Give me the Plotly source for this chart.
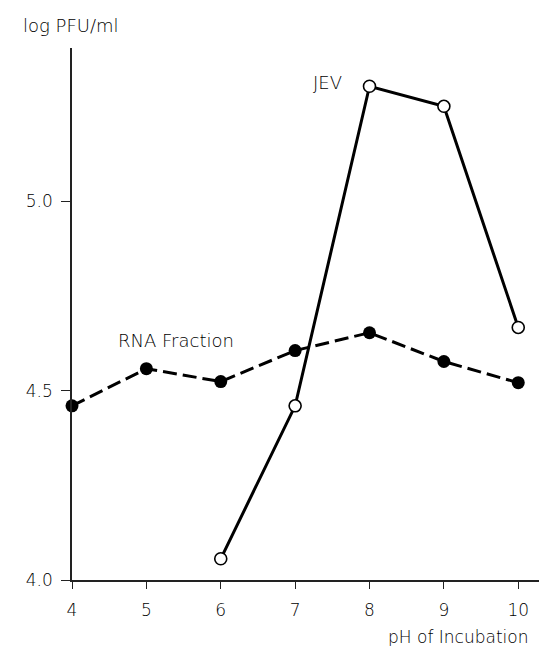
import plotly.graph_objects as go

ph = [4, 5, 6, 7, 8, 9, 10]
rna_fraction = [4.46, 4.558, 4.524, 4.606, 4.653, 4.577, 4.521]
jev_ph = [6, 7, 8, 9, 10]
jev = [4.056, 4.46, 5.304, 5.251, 4.667]

x_ticks = [4, 5, 6, 7, 8, 9, 10]
y_ticks = [4.0, 4.5, 5.0]
y_tick_labels = ["4.0", "4.5", "5.0"]

FONT = "DejaVu Sans"
INK = "#000000"
W = 200

fig = go.Figure()
fig.add_trace(go.Scatter(
    x=ph, y=rna_fraction, mode="lines+markers",
    line=dict(color="black", width=3, dash="14px,6px"),
    marker=dict(size=13, color="black"),
    cliponaxis=False, showlegend=False))
fig.add_trace(go.Scatter(
    x=jev_ph, y=jev, mode="lines+markers",
    line=dict(color="black", width=3),
    marker=dict(size=12, color="white", line=dict(color="black", width=1.6)),
    cliponaxis=False, showlegend=False))

fig.update_layout(
    width=547, height=646,
    margin=dict(l=64, r=7, t=40, b=74),
    paper_bgcolor="white", plot_bgcolor="white",
    font=dict(family=FONT, size=16, color=INK, weight=W),
    xaxis=dict(range=[4.0, 10.4], tickvals=x_ticks, ticktext=[str(v) for v in x_ticks],
               showgrid=False, zeroline=False, showline=True, linecolor="#222222",
               linewidth=1.5, ticks="outside", ticklen=7, tickwidth=1.2,
               tickcolor="#222222", ticklabelstandoff=7,
               tickfont=dict(family=FONT, size=17, color=INK, weight=W)),
    yaxis=dict(range=[4.0, 5.405], tickvals=y_ticks, ticktext=y_tick_labels,
               showgrid=False, zeroline=False, showline=True, linecolor="#222222",
               linewidth=1.5, ticks="outside", ticklen=9, tickwidth=1.2,
               tickcolor="#222222", ticklabelstandoff=5,
               tickfont=dict(family=FONT, size=17, color=INK, weight=W)),
    annotations=[
        dict(text="log PFU/ml", xref="paper", yref="paper", x=-0.107, y=1.043,
             xanchor="left", yanchor="middle", showarrow=False,
             font=dict(family=FONT, size=18, color=INK, weight=W)),
        dict(text="pH of Incubation", xref="paper", yref="paper", x=0.66, y=-0.108,
             xanchor="left", yanchor="middle", showarrow=False,
             font=dict(family=FONT, size=17, color=INK, weight=W)),
        dict(text="JEV", x=7.44, y=5.313, xref="x", yref="y",
             xanchor="center", yanchor="middle", showarrow=False,
             font=dict(family=FONT, size=18, color=INK, weight=W)),
        dict(text="RNA Fraction", x=5.4, y=4.632, xref="x", yref="y",
             xanchor="center", yanchor="middle", showarrow=False,
             font=dict(family=FONT, size=18, color=INK, weight=W)),
    ],
)

fig.write_html("out.html")
